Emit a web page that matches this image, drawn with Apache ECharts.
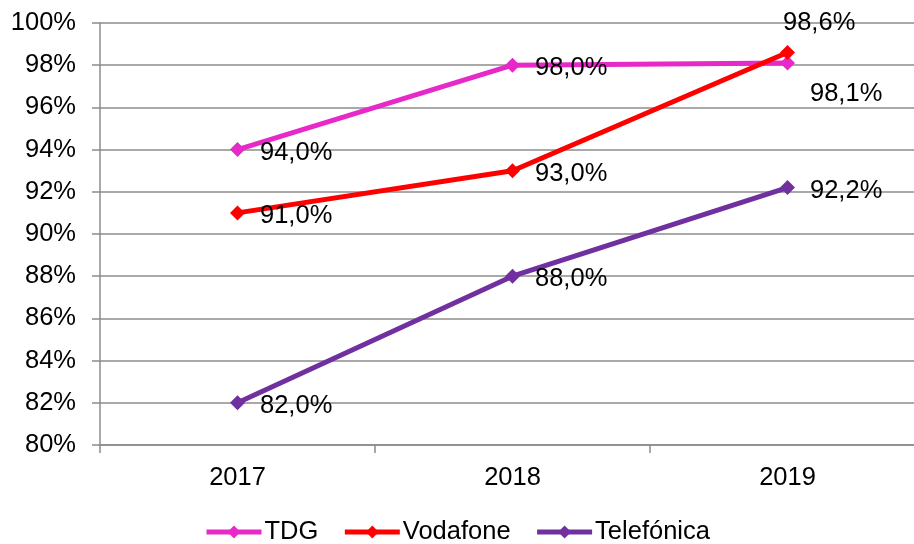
<!DOCTYPE html>
<html>
<head>
<meta charset="utf-8">
<script src="https://cdn.jsdelivr.net/npm/echarts@6/dist/echarts.min.js"></script>
<style>
  html, body { margin: 0; padding: 0; background: #fff; }
  #chart { width: 914px; height: 544px; }
</style>
</head>
<body>
<div id="chart"></div>
<script>
const years = ["2017", "2018", "2019"];
const tdg = [94.0, 98.0, 98.1];
const vodafone = [91.0, 93.0, 98.6];
const telefonica = [82.0, 88.0, 92.2];

const fontFamily = "Liberation Sans, Arial, sans-serif";
const fontSize = 25.5;
const fmt = (v) => v.toFixed(1).replace(".", ",") + "%";

// per-point label tweaks (index -> offset)
function withLabels(values, offsets) {
  return values.map((v, i) => {
    const item = { value: v };
    if (offsets[i]) item.label = { offset: offsets[i] };
    return item;
  });
}

function makeSeries(name, color, values, offsets) {
  return {
    name: name,
    type: "line",
    data: withLabels(values, offsets),
    symbol: "diamond",
    symbolSize: 15,
    showAllSymbol: true,
    lineStyle: { color: color, width: 5 },
    itemStyle: { color: color },
    label: {
      show: true,
      position: "right",
      distance: 15,
      offset: [0, 3],
      color: "#000",
      fontSize: fontSize,
      fontFamily: fontFamily,
      formatter: (p) => fmt(p.value)
    },
    emphasis: { disabled: true },
    animation: false
  };
}

const chart = echarts.init(document.getElementById("chart"));
chart.setOption({
  animation: false,
  grid: { left: 100, width: 825, top: 23, bottom: 99, containLabel: false, outerBoundsMode: "none" },
  legend: {
    top: 514,
    left: 199,
    itemWidth: 55,
    itemHeight: 16,
    itemGap: 24,
    textStyle: { color: "#000", fontSize: fontSize, fontFamily: fontFamily, padding: [0, 0, 0, -2] },
    lineStyle: { width: 5 },
    data: ["TDG", "Vodafone", "Telefónica"]
  },
  xAxis: {
    type: "category",
    data: years,
    boundaryGap: true,
    axisLine: { lineStyle: { color: "#8c8c8c", width: 1.5 } },
    axisTick: { show: true, length: 8, lineStyle: { color: "#8c8c8c", width: 1.5 } },
    axisLabel: { color: "#000", fontSize: fontSize, fontFamily: fontFamily, margin: 20 }
  },
  yAxis: {
    type: "value",
    min: 80,
    max: 100,
    interval: 2,
    axisLine: { show: true, lineStyle: { color: "#8c8c8c", width: 1.5 } },
    axisTick: { show: true, length: 8, lineStyle: { color: "#8c8c8c", width: 1.5 } },
    splitLine: { lineStyle: { color: "#8c8c8c", width: 1.5 } },
    axisLabel: { color: "#000", fontSize: fontSize, fontFamily: fontFamily, margin: 24, formatter: "{value}%" }
  },
  series: [
    makeSeries("TDG", "#e629c8", tdg, { 2: [0, 31] }),
    makeSeries("Vodafone", "#ff0000", vodafone, { 2: [-27, -30] }),
    makeSeries("Telefónica", "#7030a0", telefonica, {})
  ]
});
</script>
</body>
</html>
